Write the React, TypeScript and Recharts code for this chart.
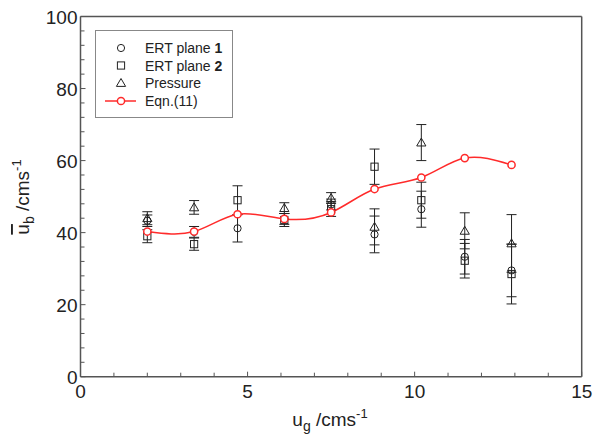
import {
  ComposedChart,
  Scatter,
  Line,
  XAxis,
  YAxis,
  ErrorBar,
  Legend,
  ReferenceLine,
} from 'recharts';

// gas velocity u_g (cm/s) at each measurement
const ugValues = [2.0, 3.4, 4.7, 6.1, 7.5, 8.8, 10.2, 11.5, 12.9];
const eqn11 = [40.3, 40.3, 45.1, 43.8, 45.6, 52.1, 55.3, 60.7, 58.8];
const ert1Mean = [43.3, 40.2, 41.2, 43.8, 47.8, 39.5, 46.5, 33.3, 29.5];
const ert1Err = [1.6, 1.5, 3.8, 1.5, 1.5, 5.1, 5.0, 4.8, 7.3];
const ert2Mean = [39.0, 36.8, 49.0, 43.5, 46.5, 58.3, 49.0, 32.2, 28.5];
const ert2Err = [1.8, 1.7, 4.0, 1.8, 2.0, 4.9, 5.0, 4.8, 8.3];
const pressureUg = [2.0, 3.4, 6.1, 7.5, 8.8, 10.2, 11.5, 12.9];
const pressureMean = [44.0, 47.0, 46.8, 49.6, 41.6, 65.0, 40.5, 37.0];
const pressureErr = [1.8, 1.9, 1.5, 1.5, 5.0, 5.0, 5.0, 8.0];

const xTicks = [0, 1, 2, 3, 4, 5, 6, 7, 8, 9, 10, 11, 12, 13, 14, 15];
const yTicks = [0, 4, 8, 12, 16, 20, 24, 28, 32, 36, 40, 44, 48, 52, 56, 60, 64, 68, 72, 76, 80, 84, 88, 92, 96, 100];
const xLabelled = [0, 5, 10, 15];
const yLabelled = [0, 20, 40, 60, 80, 100];

const FONT = '"Liberation Sans", Arial, sans-serif';
const AXIS = '#555';
const INK = '#222';
const RED = '#ff2b2b';

const eqnData = ugValues.map((x, i) => ({ x, y: eqn11[i] }));
const ert1Data = ugValues.map((x, i) => ({ x, y: ert1Mean[i], err: ert1Err[i] }));
const ert2Data = ugValues.map((x, i) => ({ x, y: ert2Mean[i], err: ert2Err[i] }));
const pressureData = pressureUg.map((x, i) => ({ x, y: pressureMean[i], err: pressureErr[i] }));

const CircleMark = (p: any) => <circle cx={p.cx} cy={p.cy} r={3.6} fill="none" stroke={INK} strokeWidth={1} />;
const SquareMark = (p: any) => <rect x={p.cx - 3.6} y={p.cy - 3.6} width={7.2} height={7.2} fill="none" stroke={INK} strokeWidth={1} />;
const TriangleMark = (p: any) => (
  <polygon
    points={`${p.cx},${p.cy - 4.5} ${p.cx - 4.6},${p.cy + 3.4} ${p.cx + 4.6},${p.cy + 3.4}`}
    fill="none"
    stroke={INK}
    strokeWidth={1}
  />
);

function XTick(props: any) {
  const { x, y, payload } = props;
  const major = xLabelled.includes(payload.value);
  return (
    <g>
      <line x1={x} x2={x} y1={y} y2={y - (major ? 5 : 4)} stroke={AXIS} strokeWidth={1} />
      {major && (
        <text x={x} y={y + 21} textAnchor="middle" fontSize={19} fontFamily={FONT} fill={INK}>
          {payload.value}
        </text>
      )}
    </g>
  );
}

function YTick(props: any) {
  const { x, y, payload } = props;
  const major = yLabelled.includes(payload.value);
  return (
    <g>
      <line x1={x} x2={x + (major ? 5 : 4)} y1={y} y2={y} stroke={AXIS} strokeWidth={1} />
      {major && (
        <text x={x - 3} y={y + 7} textAnchor="end" fontSize={19} fontFamily={FONT} fill={INK}>
          {payload.value}
        </text>
      )}
    </g>
  );
}

function XTitle() {
  return (
    <text x={330} y={426} textAnchor="middle" fontSize={19} fontFamily={FONT} fill={INK}>
      <tspan>u</tspan>
      <tspan dy={5} fontSize={14}>g</tspan>
      <tspan dy={-5}> /cms</tspan>
      <tspan dy={-8} fontSize={13}>-1</tspan>
    </text>
  );
}

function YTitle() {
  return (
    <text x={0} y={0} transform="translate(29,197) rotate(-90)" textAnchor="middle" fontSize={19} fontFamily={FONT} fill={INK}>
      <tspan style={{ textDecoration: 'overline' }}>u</tspan>
      <tspan dy={5} fontSize={14}>b</tspan>
      <tspan dy={-5}> /cms</tspan>
      <tspan dy={-8} fontSize={13}>-1</tspan>
    </text>
  );
}

// legend drawn as its own small svg so positions are exact
function LegendBox() {
  const rowY = [18, 35.5, 53, 71];
  const mx = 26;
  return (
    <svg width={138} height={88} style={{ display: 'block' }}>
      <rect x={0.5} y={0.5} width={137} height={87} fill="#fff" stroke="#888" strokeWidth={1} />
      <circle cx={mx} cy={rowY[0]} r={3.6} fill="none" stroke={INK} />
      <rect x={mx - 3.6} y={rowY[1] - 3.6} width={7.2} height={7.2} fill="none" stroke={INK} />
      <polygon
        points={`${mx},${rowY[2] - 4.5} ${mx - 4.6},${rowY[2] + 3.4} ${mx + 4.6},${rowY[2] + 3.4}`}
        fill="none"
        stroke={INK}
      />
      <line x1={10} x2={41} y1={rowY[3]} y2={rowY[3]} stroke={RED} strokeWidth={1.5} />
      <circle cx={mx} cy={rowY[3]} r={3.6} fill="#fff" stroke={RED} strokeWidth={1.5} />
      <g fontFamily={FONT} fontSize={14} fill={INK}>
        <text x={50} y={rowY[0] + 5}>
          ERT plane <tspan fontWeight="bold">1</tspan>
        </text>
        <text x={50} y={rowY[1] + 5}>
          ERT plane <tspan fontWeight="bold">2</tspan>
        </text>
        <text x={50} y={rowY[2] + 5}>Pressure</text>
        <text x={50} y={rowY[3] + 5}>Eqn.(11)</text>
      </g>
    </svg>
  );
}

export default function App() {
  return (
    <div style={{ position: 'absolute', left: 0, top: 0, width: 595, height: 437, background: '#fff' }}>
      <ComposedChart width={595} height={437} margin={{ top: 16.5, right: 13.3, bottom: 20.3, left: 20.5 }}>
        <XAxis
          type="number"
          dataKey="x"
          domain={[0, 15]}
          ticks={xTicks}
          interval={0}
          tickSize={0}
          tickMargin={0}
          tickLine={false}
          tick={<XTick />}
          height={40}
          stroke={AXIS}
          strokeWidth={1.5}
          label={<XTitle />}
          allowDataOverflow
        />
        <YAxis
          type="number"
          dataKey="y"
          domain={[0, 100]}
          ticks={yTicks}
          interval={0}
          tickSize={0}
          tickMargin={0}
          tickLine={false}
          tick={<YTick />}
          width={60}
          stroke={AXIS}
          strokeWidth={1.5}
          label={<YTitle />}
          allowDataOverflow
        />
        <ReferenceLine y={100} stroke={AXIS} strokeWidth={1.5} />
        <ReferenceLine x={15} stroke={AXIS} strokeWidth={1.5} />
        <Legend
          layout="horizontal"
          verticalAlign="middle"
          align="center"
          wrapperStyle={{ left: 95, top: 30, width: 138, height: 88 }}
          content={() => <LegendBox />}
        />
        <Scatter name="ERT plane 1" data={ert1Data} shape={CircleMark} isAnimationActive={false}>
          <ErrorBar dataKey="err" direction="y" width={5} stroke={INK} strokeWidth={1} />
        </Scatter>
        <Scatter name="ERT plane 2" data={ert2Data} shape={SquareMark} isAnimationActive={false}>
          <ErrorBar dataKey="err" direction="y" width={5} stroke={INK} strokeWidth={1} />
        </Scatter>
        <Scatter name="Pressure" data={pressureData} shape={TriangleMark} isAnimationActive={false}>
          <ErrorBar dataKey="err" direction="y" width={5} stroke={INK} strokeWidth={1} />
        </Scatter>
        <Line
          name="Eqn.(11)"
          data={eqnData}
          dataKey="y"
          type="natural"
          stroke={RED}
          strokeWidth={1.5}
          dot={{ r: 3.6, fill: '#fff', stroke: RED, strokeWidth: 1.5 }}
          isAnimationActive={false}
        />
      </ComposedChart>
    </div>
  );
}
